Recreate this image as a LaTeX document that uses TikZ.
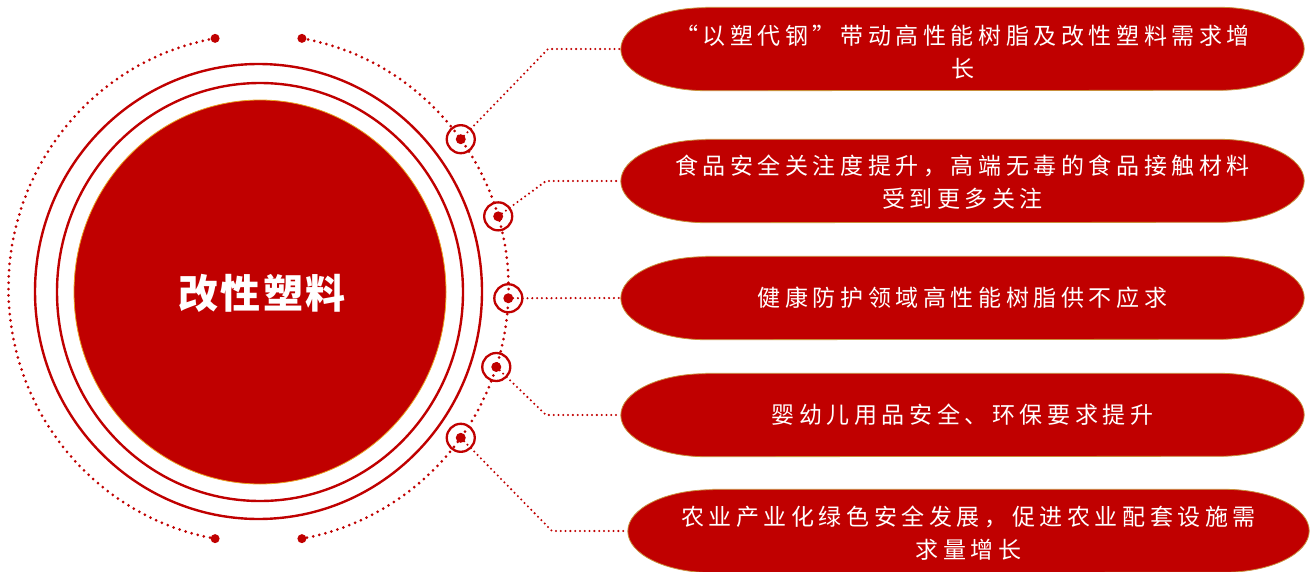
\documentclass[tikz,border=0pt]{standalone}
\usepackage{fontspec}
\newfontfamily\cjk[LetterSpace=20]{Noto Sans CJK SC}
\newfontfamily\cjkc[LetterSpace=6]{Noto Sans CJK SC}
\usetikzlibrary{shapes.geometric}
\definecolor{dred}{HTML}{C00000}
\definecolor{ovedge}{HTML}{C8903C}
\definecolor{cedge}{HTML}{E8A020}
\newcommand{\ovalshape}[1]{%
  \fill[dred, draw=ovedge, line width=0.8pt]
    ([xshift=85pt]#1.north west) -- ([xshift=-85pt]#1.north east)
    arc[start angle=90, end angle=-90, x radius=85, y radius=41.5]
    -- ([xshift=85pt]#1.south west)
    arc[start angle=270, end angle=90, x radius=85, y radius=41.5] -- cycle;}
\begin{document}
\begin{tikzpicture}[x=1pt,y=1pt,
  ovbox/.style={rectangle, minimum width=683pt, minimum height=83pt, inner sep=0pt},
  ovtext/.style={text=white, align=center, inner sep=0pt, font=\cjk\fontsize{23}{33}\selectfont},
  ring/.style={draw=dred, line width=2.4pt},
  arcdots/.style={dred, line width=3pt, line cap=round, dash pattern=on 0pt off 6.3pt},
  condots/.style={dred, line width=2.3pt, line cap=round, dash pattern=on 0pt off 4.8pt},
  marker/.style={circle, draw=dred, line width=2.3pt, minimum size=28pt, inner sep=0pt},
  enddot/.style={circle, fill=dred, minimum size=9pt, inner sep=0pt},
  hub/.style={circle, fill=dred, minimum size=10pt, inner sep=0pt}]
\useasboundingbox (0,0) rectangle (1313,-572);
\coordinate (ac) at (258.5,-288.5);
% dotted arcs
\draw[arcdots] ([shift={(100:250 and 254)}]ac) arc[start angle=100, end angle=260, x radius=250, y radius=254];
\draw[arcdots] ([shift={(80:250 and 254)}]ac) arc[start angle=80, end angle=-80, x radius=250, y radius=254];
\node[enddot] (t1) at ([shift={(100:250 and 254)}]ac) {};
\node[enddot] (t2) at ([shift={(80:250 and 254)}]ac) {};
\node[enddot] (t3) at ([shift={(260:250 and 254)}]ac) {};
\node[enddot] (t4) at ([shift={(280:250 and 254)}]ac) {};
% central circle and rings
\node[ellipse, fill=dred, draw=cedge, line width=0.8pt, minimum width=372pt, minimum height=384pt, inner sep=0pt] (c) at (260,-292) {};
\node[text=white, inner sep=0pt, font=\cjkc\bfseries\fontsize{40}{42}\selectfont] (ct) at (262,-293) {改性塑料};
\draw[ring] (c.center) ellipse [x radius=203, y radius=209];
\draw[ring] (258.5,-291.5) ellipse [x radius=223.5, y radius=227.5];
% markers
\foreach \i/\a in {1/36,2/16.5,3/-2.2,4/-18,5/-36}{
  \node[marker] (m\i) at ([shift={(\a:250 and 254)}]ac) {};
  \node[hub] (h\i) at (m\i.center) {};
}
% oval boxes
\node[ovbox] (e1) at (962.5,-49) {};
\node[ovbox] (e2) at (962.5,-181) {};
\node[ovbox] (e3) at (962.5,-298) {};
\node[ovbox] (e4) at (962.5,-415) {};
\node[ovbox, minimum width=681pt] (e5) at (968.5,-531) {};
% connectors
\coordinate (b1) at (548,-49);
\coordinate (b2) at (546,-181);
\coordinate (b4) at (546,-415);
\coordinate (b5) at (552,-531);
\draw[condots] (m1.center) -- (b1) -- (e1.west);
\draw[condots] (m2.center) -- (b2) -- (e2.west);
\draw[condots] (m3.center) -- (e3.west);
\draw[condots] (m4.center) -- (b4) -- (e4.west);
\draw[condots] (m5.center) -- (b5) -- (e5.west);
\ovalshape{e1}
\ovalshape{e2}
\ovalshape{e3}
\ovalshape{e4}
\ovalshape{e5}
% texts
\node[ovtext] (x1) at ([yshift=-3pt]e1.center) {“以塑代钢”带动高性能树脂及改性塑料需求增\\长};
\node[ovtext] (x2) at ([yshift=-1pt]e2.center) {食品安全关注度提升，高端无毒的食品接触材料\\受到更多关注};
\node[ovtext] (x3) at (e3.center) {健康防护领域高性能树脂供不应求};
\node[ovtext] (x4) at (e4.center) {婴幼儿用品安全、环保要求提升};
\node[ovtext] (x5) at ([yshift=-2pt]e5.center) {农业产业化绿色安全发展，促进农业配套设施需\\求量增长};
\end{tikzpicture}
\end{document}
